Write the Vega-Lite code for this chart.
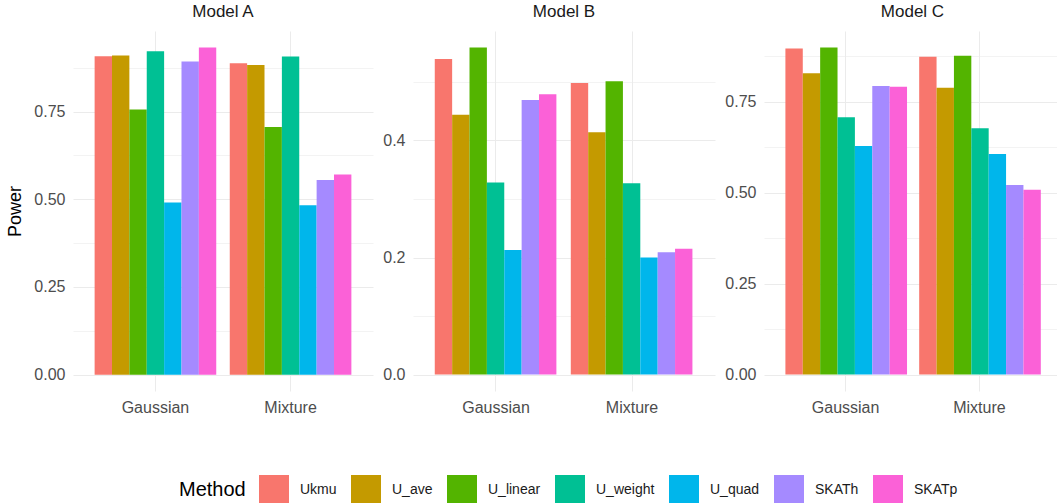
{
  "$schema": "https://vega.github.io/schema/vega-lite/v6.json",
  "autosize": "none",
  "padding": {"left": 73, "top": 31, "right": 984, "bottom": 472},
  "background": "white",
  "config": {
    "view": {"stroke": null},
    "font": "Liberation Sans",
    "title": {"fontSize": 17, "fontWeight": "normal", "color": "#1a1a1a", "anchor": "middle", "offset": 10, "baseline": "alphabetic"},
    "axis": {"domain": false, "ticks": false, "gridColor": "#EBEBEB", "labelFont": "Liberation Sans", "labelFontSize": 16, "labelColor": "#4d4d4d"},
    "legend": {
      "orient": "none", "legendX": 106, "legendY": 444, "direction": "horizontal",
      "titleOrient": "left", "titleFontSize": 20, "titleFontWeight": "normal", "titleColor": "#000000", "titlePadding": 13, "titleBaseline": "middle",
      "symbolType": "square", "symbolSize": 900, "symbolStrokeWidth": 0, "symbolOpacity": 1,
      "labelFontSize": 14, "labelColor": "#1a1a1a", "labelOffset": 11, "columnPadding": 14
    }
  },
  "data": {"values": [
    {"model": "Model A", "dist": "Gaussian", "method": "Ukmu", "power": 0.908},
    {"model": "Model A", "dist": "Gaussian", "method": "U_ave", "power": 0.910},
    {"model": "Model A", "dist": "Gaussian", "method": "U_linear", "power": 0.756},
    {"model": "Model A", "dist": "Gaussian", "method": "U_weight", "power": 0.922},
    {"model": "Model A", "dist": "Gaussian", "method": "U_quad", "power": 0.491},
    {"model": "Model A", "dist": "Gaussian", "method": "SKATh", "power": 0.893},
    {"model": "Model A", "dist": "Gaussian", "method": "SKATp", "power": 0.933},
    {"model": "Model A", "dist": "Mixture", "method": "Ukmu", "power": 0.888},
    {"model": "Model A", "dist": "Mixture", "method": "U_ave", "power": 0.883},
    {"model": "Model A", "dist": "Mixture", "method": "U_linear", "power": 0.706},
    {"model": "Model A", "dist": "Mixture", "method": "U_weight", "power": 0.907},
    {"model": "Model A", "dist": "Mixture", "method": "U_quad", "power": 0.483},
    {"model": "Model A", "dist": "Mixture", "method": "SKATh", "power": 0.555},
    {"model": "Model A", "dist": "Mixture", "method": "SKATp", "power": 0.571},
    {"model": "Model B", "dist": "Gaussian", "method": "Ukmu", "power": 0.539},
    {"model": "Model B", "dist": "Gaussian", "method": "U_ave", "power": 0.444},
    {"model": "Model B", "dist": "Gaussian", "method": "U_linear", "power": 0.559},
    {"model": "Model B", "dist": "Gaussian", "method": "U_weight", "power": 0.328},
    {"model": "Model B", "dist": "Gaussian", "method": "U_quad", "power": 0.213},
    {"model": "Model B", "dist": "Gaussian", "method": "SKATh", "power": 0.469},
    {"model": "Model B", "dist": "Gaussian", "method": "SKATp", "power": 0.479},
    {"model": "Model B", "dist": "Mixture", "method": "Ukmu", "power": 0.498},
    {"model": "Model B", "dist": "Mixture", "method": "U_ave", "power": 0.414},
    {"model": "Model B", "dist": "Mixture", "method": "U_linear", "power": 0.501},
    {"model": "Model B", "dist": "Mixture", "method": "U_weight", "power": 0.327},
    {"model": "Model B", "dist": "Mixture", "method": "U_quad", "power": 0.200},
    {"model": "Model B", "dist": "Mixture", "method": "SKATh", "power": 0.209},
    {"model": "Model B", "dist": "Mixture", "method": "SKATp", "power": 0.215},
    {"model": "Model C", "dist": "Gaussian", "method": "Ukmu", "power": 0.896},
    {"model": "Model C", "dist": "Gaussian", "method": "U_ave", "power": 0.828},
    {"model": "Model C", "dist": "Gaussian", "method": "U_linear", "power": 0.899},
    {"model": "Model C", "dist": "Gaussian", "method": "U_weight", "power": 0.707},
    {"model": "Model C", "dist": "Gaussian", "method": "U_quad", "power": 0.628},
    {"model": "Model C", "dist": "Gaussian", "method": "SKATh", "power": 0.793},
    {"model": "Model C", "dist": "Gaussian", "method": "SKATp", "power": 0.791},
    {"model": "Model C", "dist": "Mixture", "method": "Ukmu", "power": 0.873},
    {"model": "Model C", "dist": "Mixture", "method": "U_ave", "power": 0.788},
    {"model": "Model C", "dist": "Mixture", "method": "U_linear", "power": 0.876},
    {"model": "Model C", "dist": "Mixture", "method": "U_weight", "power": 0.677},
    {"model": "Model C", "dist": "Mixture", "method": "U_quad", "power": 0.606},
    {"model": "Model C", "dist": "Mixture", "method": "SKATh", "power": 0.521},
    {"model": "Model C", "dist": "Mixture", "method": "SKATp", "power": 0.508}
  ]},
  "bounds": "full",
  "spacing": 9,
  "hconcat": [
    {
      "bounds": "flush",
      "spacing": 40,
      "hconcat": [
        {
          "transform": [{"filter": "datum.model == 'Model A'"}],
          "title": {"text": "Model A"},
          "width": 300, "height": 360,
          "mark": {"type": "bar"},
          "encoding": {
            "x": {"field": "dist", "type": "nominal", "title": null, "scale": {"paddingInner": 0.1, "paddingOuter": 0.16},
                  "axis": {"grid": true, "bandPosition": 0.5, "labelAngle": 0, "labelPadding": 8}},
            "xOffset": {"field": "method", "type": "nominal", "sort": ["Ukmu", "U_ave", "U_linear", "U_weight", "U_quad", "SKATh", "SKATp"], "scale": {"paddingInner": 0, "paddingOuter": 0}},
            "y": {"field": "power", "type": "quantitative", "title": "Power",
                  "scale": {"domain": [-0.0467, 0.98], "nice": false, "zero": false},
                  "axis": {"values": [0, 0.125, 0.25, 0.375, 0.5, 0.625, 0.75, 0.875], "labelExpr": "datum.value % 0.25 == 0 ? format(datum.value, '.2f') : ''",
                           "gridWidth": {"condition": {"test": "datum.value % 0.25 == 0", "value": 1.1}, "value": 0.6},
                           "labelPadding": 8, "titleFontSize": 18, "titleFontWeight": "normal", "titleColor": "#000000", "titleX": -58, "titleY": 180, "titleBaseline": "middle", "titleAngle": -90, "titleAlign": "center"}},
            "y2": {"datum": 0},
            "color": {"field": "method", "type": "nominal", "title": "Method",
                      "scale": {"domain": ["Ukmu", "U_ave", "U_linear", "U_weight", "U_quad", "SKATh", "SKATp"], "range": ["#F8766D", "#C49A00", "#53B400", "#00C094", "#00B6EB", "#A58AFF", "#FB61D7"]}}
          }
        },
        {
          "transform": [{"filter": "datum.model == 'Model B'"}],
          "title": {"text": "Model B"},
          "width": 302, "height": 360,
          "mark": {"type": "bar"},
          "encoding": {
            "x": {"field": "dist", "type": "nominal", "title": null, "scale": {"paddingInner": 0.1, "paddingOuter": 0.16},
                  "axis": {"grid": true, "bandPosition": 0.5, "labelAngle": 0, "labelPadding": 8}},
            "xOffset": {"field": "method", "type": "nominal", "sort": ["Ukmu", "U_ave", "U_linear", "U_weight", "U_quad", "SKATh", "SKATp"], "scale": {"paddingInner": 0, "paddingOuter": 0}},
            "y": {"field": "power", "type": "quantitative", "title": null,
                  "scale": {"domain": [-0.028, 0.587], "nice": false, "zero": false},
                  "axis": {"values": [0, 0.1, 0.2, 0.3, 0.4, 0.5], "labelExpr": "datum.value % 0.2 == 0 ? format(datum.value, '.1f') : ''",
                           "gridWidth": {"condition": {"test": "datum.value % 0.2 == 0", "value": 1.1}, "value": 0.6},
                           "labelPadding": 8}},
            "y2": {"datum": 0},
            "color": {"field": "method", "type": "nominal", "title": "Method"}
          }
        }
      ]
    },
    {
      "transform": [{"filter": "datum.model == 'Model C'"}],
      "title": {"text": "Model C"},
      "width": 297, "height": 360,
      "mark": {"type": "bar"},
      "encoding": {
        "x": {"field": "dist", "type": "nominal", "title": null, "scale": {"paddingInner": 0.1, "paddingOuter": 0.16},
              "axis": {"grid": true, "bandPosition": 0.5, "labelAngle": 0, "labelPadding": 8}},
        "xOffset": {"field": "method", "type": "nominal", "sort": ["Ukmu", "U_ave", "U_linear", "U_weight", "U_quad", "SKATh", "SKATp"], "scale": {"paddingInner": 0, "paddingOuter": 0}},
        "y": {"field": "power", "type": "quantitative", "title": null,
              "scale": {"domain": [-0.045, 0.944], "nice": false, "zero": false},
              "axis": {"values": [0, 0.125, 0.25, 0.375, 0.5, 0.625, 0.75, 0.875], "labelExpr": "datum.value % 0.25 == 0 ? format(datum.value, '.2f') : ''",
                       "gridWidth": {"condition": {"test": "datum.value % 0.25 == 0", "value": 1.1}, "value": 0.6},
                       "labelPadding": 8}},
        "y2": {"datum": 0},
        "color": {"field": "method", "type": "nominal", "title": "Method"}
      }
    }
  ]
}
